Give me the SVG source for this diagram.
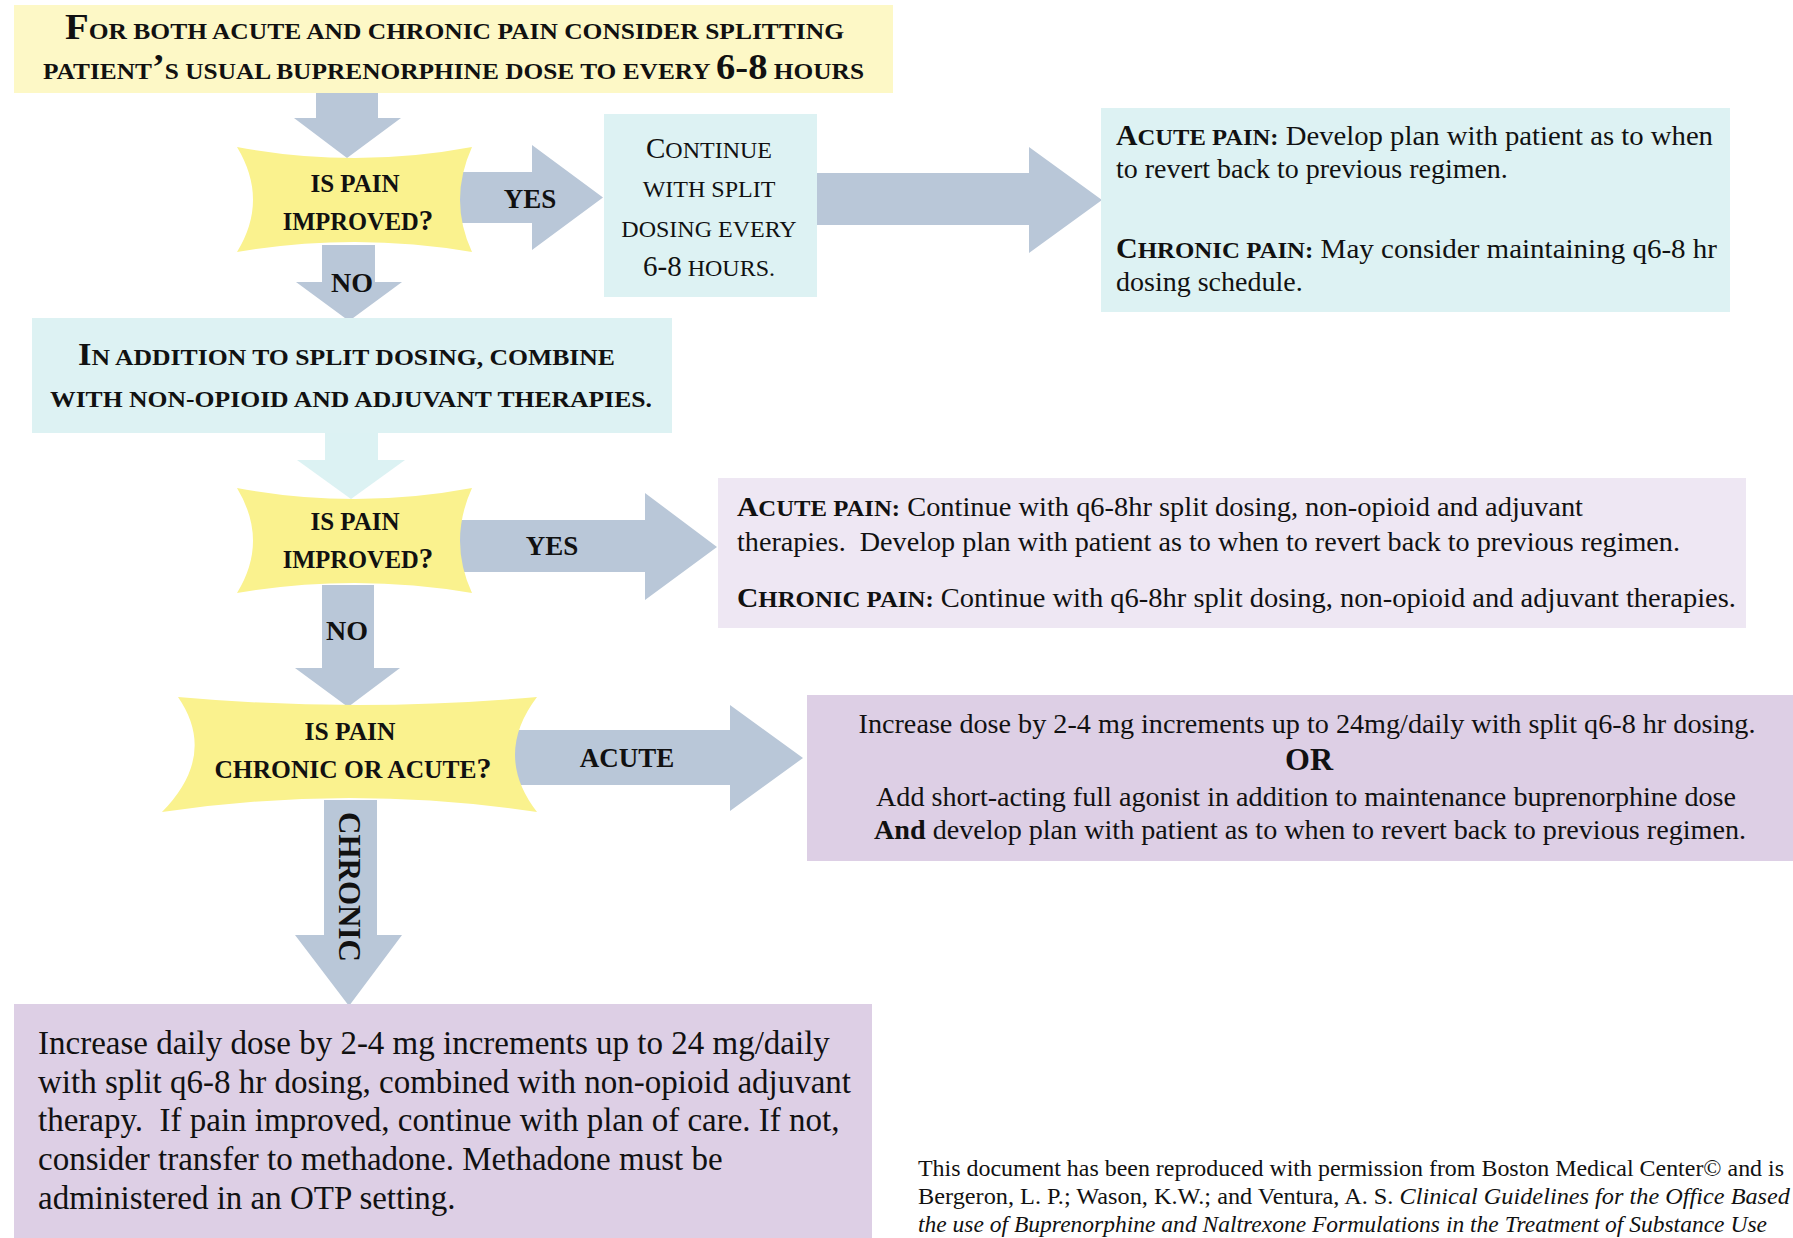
<svg xmlns="http://www.w3.org/2000/svg" width="1793" height="1238" viewBox="0 0 1793 1238">
<defs>
<style>
text { font-family: "Liberation Serif", "Times New Roman", serif; fill: #111; }
.b { font-weight: bold; }
.c { text-anchor: middle; }
.arrow { fill: #B9C7D8; }
.arrowc { fill: #DCF2F3; }
.dia { fill: #FAF28E; }
.cyan { fill: #DDF2F3; }
.pale { fill: #FDF8C6; }
.lav1 { fill: #EEE7F3; }
.lav2 { fill: #DDCFE5; }
</style>
</defs>
<rect width="1793" height="1238" fill="#ffffff"/>

<g id="connectors">
  <path class="arrow" d="M316,93 H378 V118 H401 L347,158 L294,118 H316 Z"/>
  <path class="arrow" d="M455,172 H532 V145 L603,197.5 L532,250 V223 H455 Z"/>
  <path class="arrow" d="M816,173 H1029 V147 L1102,200 L1029,253 V225 H816 Z"/>
  <path class="arrow" d="M322,245 H375 V282 H402 L349,321 L296,282 H322 Z"/>
  <path class="arrowc" d="M325,433 H378 V460 H405 L351,499 L297,460 H325 Z"/>
  <path class="arrow" d="M455,520 H645 V493 L717,547 L645,600 V572 H455 Z"/>
  <path class="arrow" d="M322,585 H374 V668 H400 L348,707 L295,668 H322 Z"/>
  <path class="arrow" d="M505,730 H730 V705 L803,758 L730,811 V785 H505 Z"/>
  <path class="arrow" d="M324,800 H377 V935 H402 L349,1006 L295,935 H324 Z"/>
  <text class="b c" x="530" y="208" font-size="27">YES</text>
  <text class="b c" x="352" y="292" font-size="28">NO</text>
  <text class="b c" x="552" y="555" font-size="27">YES</text>
  <text class="b c" x="347" y="640" font-size="28">NO</text>
  <text class="b c" x="627" y="767" font-size="27">ACUTE</text>
  <text class="b c" transform="translate(339,887) rotate(90)" font-size="31">CHRONIC</text>
</g>

<g id="node-start">
  <rect class="pale" x="14" y="5" width="879" height="88"/>
  <text class="b" x="65" y="39" font-size="23" textLength="779" lengthAdjust="spacingAndGlyphs"><tspan font-size="35">F</tspan>OR BOTH ACUTE AND CHRONIC PAIN CONSIDER SPLITTING</text>
  <text class="b" x="43" y="79" font-size="23" textLength="821" lengthAdjust="spacingAndGlyphs">PATIENT<tspan font-size="35">’</tspan>S USUAL BUPRENORPHINE DOSE TO EVERY <tspan font-size="35">6-8</tspan> HOURS</text>
</g>

<g id="node-q1">
  <path class="dia" d="M237,147 Q355,169 472,147 Q448,200 472,252 Q355,232 237,252 Q269,200 237,147 Z"/>
  <text class="b c" x="355" y="192" font-size="25">IS PAIN</text>
  <text class="b c" x="358" y="230" font-size="24.5">IMPROVED<tspan font-size="29">?</tspan></text>
</g>

<g id="node-continue">
  <rect class="cyan" x="604" y="114" width="213" height="183"/>
  <text class="c" x="709" y="158" font-size="24"><tspan font-size="29">C</tspan>ONTINUE</text>
  <text class="c" x="709" y="197" font-size="24">WITH SPLIT</text>
  <text class="c" x="709" y="237" font-size="24">DOSING EVERY</text>
  <text class="c" x="709" y="276" font-size="24"><tspan font-size="29">6-8</tspan> HOURS.</text>
</g>

<g id="node-outcome1">
  <rect class="cyan" x="1101" y="108" width="629" height="204"/>
  <text x="1116" y="145" font-size="28" textLength="597" lengthAdjust="spacingAndGlyphs"><tspan class="b" font-size="29">A</tspan><tspan class="b" font-size="24">CUTE PAIN:</tspan> Develop plan with patient as to when</text>
  <text x="1116" y="178" font-size="28">to revert back to previous regimen.</text>
  <text x="1116" y="258" font-size="28" textLength="601" lengthAdjust="spacingAndGlyphs"><tspan class="b" font-size="29">C</tspan><tspan class="b" font-size="24">HRONIC PAIN:</tspan> May consider maintaining q6-8 hr</text>
  <text x="1116" y="291" font-size="28">dosing schedule.</text>
</g>

<g id="node-combine">
  <rect class="cyan" x="32" y="318" width="640" height="115"/>
  <text class="b" x="78" y="365" font-size="23" textLength="537" lengthAdjust="spacingAndGlyphs"><tspan font-size="31">I</tspan>N ADDITION TO SPLIT DOSING, COMBINE</text>
  <text class="b" x="50" y="407" font-size="23" textLength="602" lengthAdjust="spacingAndGlyphs">WITH NON-OPIOID AND ADJUVANT THERAPIES.</text>
</g>

<g id="node-q2">
  <path class="dia" d="M237,488 Q355,510 472,488 Q448,541 472,593 Q355,573 237,593 Q269,541 237,488 Z"/>
  <text class="b c" x="355" y="530" font-size="25">IS PAIN</text>
  <text class="b c" x="358" y="568" font-size="24.5">IMPROVED<tspan font-size="29">?</tspan></text>
</g>

<g id="node-outcome2">
  <rect class="lav1" x="718" y="478" width="1028" height="150"/>
  <text x="737" y="516" font-size="27" textLength="846" lengthAdjust="spacingAndGlyphs"><tspan class="b" font-size="28">A</tspan><tspan class="b" font-size="23.5">CUTE PAIN:</tspan> Continue with q6-8hr split dosing, non-opioid and adjuvant</text>
  <text x="737" y="551" font-size="27" textLength="943" lengthAdjust="spacingAndGlyphs" xml:space="preserve">therapies.  Develop plan with patient as to when to revert back to previous regimen.</text>
  <text x="737" y="607" font-size="27" textLength="999" lengthAdjust="spacingAndGlyphs"><tspan class="b" font-size="28">C</tspan><tspan class="b" font-size="23.5">HRONIC PAIN:</tspan> Continue with q6-8hr split dosing, non-opioid and adjuvant therapies.</text>
</g>

<g id="node-q3">
  <path class="dia" d="M178,697 Q356,713 537,697 Q493,755 537,812 Q350,784 162,812 Q218,755 178,697 Z"/>
  <text class="b c" x="350" y="740" font-size="25.5">IS PAIN</text>
  <text class="b c" x="353" y="778" font-size="25.5">CHRONIC OR ACUTE<tspan font-size="30">?</tspan></text>
</g>

<g id="node-acute">
  <rect class="lav2" x="807" y="695" width="986" height="166"/>
  <text class="c" x="1307" y="733" font-size="27" textLength="897" lengthAdjust="spacingAndGlyphs">Increase dose by 2-4 mg increments up to 24mg/daily with split q6-8 hr dosing.</text>
  <text class="b c" x="1309" y="770" font-size="32">OR</text>
  <text class="c" x="1306" y="806" font-size="27" textLength="860" lengthAdjust="spacingAndGlyphs">Add short-acting full agonist in addition to maintenance buprenorphine dose</text>
  <text class="c" x="1310" y="839" font-size="27" textLength="872" lengthAdjust="spacingAndGlyphs"><tspan class="b">And</tspan> develop plan with patient as to when to revert back to previous regimen.</text>
</g>

<g id="node-chronic">
  <rect class="lav2" x="14" y="1004" width="858" height="234"/>
  <text x="38" y="1054" font-size="33">Increase daily dose by 2-4 mg increments up to 24 mg/daily</text>
  <text x="38" y="1093" font-size="33">with split q6-8 hr dosing, combined with non-opioid adjuvant</text>
  <text x="38" y="1131" font-size="33" xml:space="preserve">therapy.  If pain improved, continue with plan of care. If not,</text>
  <text x="38" y="1170" font-size="33">consider transfer to methadone. Methadone must be</text>
  <text x="38" y="1209" font-size="33">administered in an OTP setting.</text>
</g>

<g id="footer">
  <text x="918" y="1176" font-size="24" textLength="866" lengthAdjust="spacingAndGlyphs">This document has been reproduced with permission from Boston Medical Center© and is</text>
  <text x="918" y="1204" font-size="24" textLength="872" lengthAdjust="spacingAndGlyphs">Bergeron, L. P.; Wason, K.W.; and Ventura, A. S. <tspan font-style="italic">Clinical Guidelines for the Office Based</tspan></text>
  <text x="918" y="1232" font-size="24" font-style="italic" textLength="849" lengthAdjust="spacingAndGlyphs">the use of Buprenorphine and Naltrexone Formulations in the Treatment of Substance Use</text>
</g>
</svg>
